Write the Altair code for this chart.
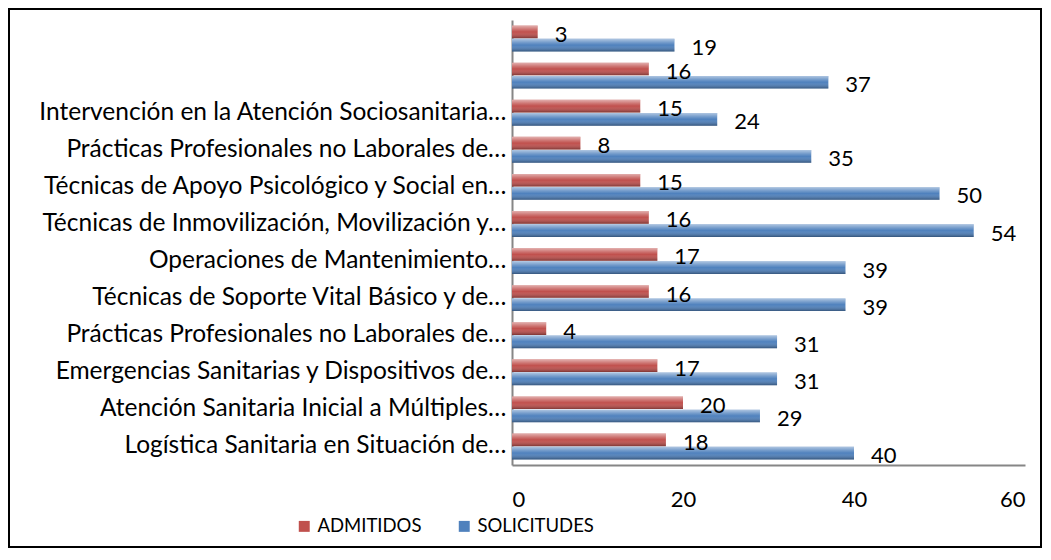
import altair as alt
import pandas as pd

# Categories from bottom to top (keys unique; '#' prefix = blank label)
keys = [
    "Logística Sanitaria en Situación de…",
    "Atención Sanitaria Inicial a Múltiples…",
    "Emergencias Sanitarias y Dispositivos de…",
    "Prácticas Profesionales no Laborales de… ",
    "Técnicas de Soporte Vital Básico y de…",
    "Operaciones de Mantenimiento…",
    "Técnicas de Inmovilización, Movilización y…",
    "Técnicas de Apoyo Psicológico y Social en…",
    "Prácticas Profesionales no Laborales de…",
    "Intervención en la Atención Sociosanitaria…",
    "#blank1",
    "#blank2",
]
admitidos = [18, 20, 17, 4, 16, 17, 16, 15, 8, 15, 16, 3]
solicitudes = [40, 29, 31, 31, 39, 39, 54, 50, 35, 24, 37, 19]
series = ["ADMITIDOS", "SOLICITUDES"]
colors = ["#C0504D", "#4F81BD"]

rows = []
for k, a, s in zip(keys, admitidos, solicitudes):
    rows.append({"cat": k, "serie": series[0], "value": a})
    rows.append({"cat": k, "serie": series[1], "value": s})
df = pd.DataFrame(rows)

FONT = "Lato"
order_top_down = list(reversed(keys))

y_enc = alt.Y(
    "cat:N",
    sort=order_top_down,
    scale=alt.Scale(paddingInner=0.3, paddingOuter=0.15),
    axis=alt.Axis(
        title=None,
        labelExpr="indexof(datum.label, '#') == 0 ? '' : datum.label",
        labelFont=FONT,
        labelFontSize=24.5,
        labelColor="#000000",
        labelLimit=520,
        labelPadding=6,
        ticks=False,
        domainColor="#868686",
        domainWidth=2,
    ),
)
x_enc = alt.X(
    "value:Q",
    scale=alt.Scale(domain=[0, 60], nice=False),
    axis=alt.Axis(
        title=None,
        values=[0, 20, 40, 60],
        labelFont=FONT,
        labelFontSize=22,
        labelColor="#000000",
        labelPadding=24,
        ticks=False,
        grid=False,
        domainColor="#868686",
        domainWidth=2,
    ),
)
yoff = alt.YOffset("serie:N", sort=series, scale=alt.Scale(paddingInner=0.04))

base = alt.Chart(df)

bars = base.mark_bar(stroke=None).encode(
    x=x_enc,
    y=y_enc,
    yOffset=yoff,
    color=alt.Color(
        "serie:N",
        sort=series,
        scale=alt.Scale(domain=series, range=colors),
        legend=alt.Legend(
            title=None,
            orient="none",
            legendX=-217,
            legendY=497,
            direction="horizontal",
            symbolType="square",
            symbolSize=120,
            symbolStrokeWidth=0,
            labelFont=FONT,
            labelFontSize=18.5,
            labelColor="#000000",
            labelOffset=4,
            columnPadding=33,
            padding=0,
        ),
    ),
)

shine = base.mark_bar(
    fill=alt.Gradient(
        gradient="linear",
        x1=0, x2=0, y1=0, y2=1,
        stops=[
            alt.GradientStop(color="rgba(255,255,255,0.55)", offset=0),
            alt.GradientStop(color="rgba(255,255,255,0.2)", offset=0.3),
            alt.GradientStop(color="rgba(255,255,255,0)", offset=0.5),
            alt.GradientStop(color="rgba(0,0,0,0.35)", offset=1),
        ],
    ),
).encode(x="value:Q", y=alt.Y("cat:N", sort=order_top_down), yOffset=yoff)

labels = base.mark_text(
    align="left", baseline="middle", dx=17, dy=3, font=FONT, fontSize=22, color="#000000"
).encode(x="value:Q", y=alt.Y("cat:N", sort=order_top_down), yOffset=yoff, text="value:Q")

frame = alt.Chart(pd.DataFrame({"f": [0]})).mark_rect(
    fill=None, stroke="#000000", strokeWidth=2
).encode(
    x=alt.value(-503),
    x2=alt.value(513 + 16),
    y=alt.value(-11),
    y2=alt.value(445 + 82),
)

chart = (
    alt.layer(frame, bars, shine, labels)
    .properties(
        width=513,
        height=445,
        padding={"left": 504, "top": 12, "right": 17, "bottom": 83},
        autosize=alt.AutoSizeParams(type="none"),
        background="#ffffff",
    )
    .configure_view(stroke=None)
)

chart.save("out.html", embed_options={"renderer": "svg", "actions": False})
